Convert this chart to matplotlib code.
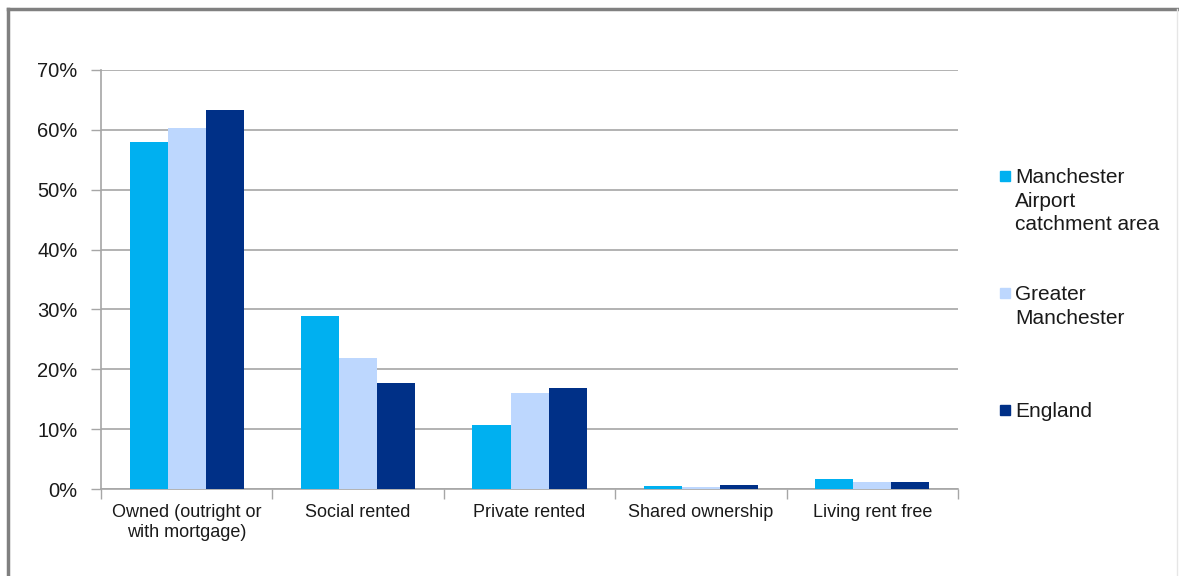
import numpy as np
import matplotlib.pyplot as plt
from matplotlib.patches import Rectangle
from matplotlib.lines import Line2D

plt.rcParams['font.family'] = ['Liberation Sans', 'DejaVu Sans']

categories = ['Owned (outright or\nwith mortgage)', 'Social rented', 'Private rented',
              'Shared ownership', 'Living rent free']
series_names = ['Manchester\nAirport\ncatchment area', 'Greater\nManchester', 'England']
airport = [57.9, 28.9, 10.7, 0.55, 1.7]
greater_manchester = [60.3, 21.9, 16.0, 0.4, 1.2]
england = [63.3, 17.7, 16.8, 0.7, 1.2]
colors = ['#00B0F0', '#BDD7FE', '#003087']
y_ticks = [0, 10, 20, 30, 40, 50, 60, 70]

fig = plt.figure(figsize=(11.79, 5.76), dpi=100)
ax = fig.add_axes([0.0857, 0.151, 0.8126 - 0.0857, 0.8785 - 0.151])

x = np.arange(len(categories))
w = 0.222
for i, vals in enumerate([airport, greater_manchester, england]):
    ax.bar(x + (i - 1) * w, vals, width=w, color=colors[i], zorder=3)

ax.set_xlim(-0.5, len(categories) - 0.5)
ax.set_ylim(0, 70)
ax.set_yticks(y_ticks)
ax.set_yticklabels([f'{t}%' for t in y_ticks], fontsize=14.5, color='#1a1a1a')
ax.yaxis.grid(True, color='#a6a6a6', linewidth=1.2, zorder=0)
ax.tick_params(axis='y', length=7, width=1, color='#a6a6a6', pad=10)

ax.set_xticks(x)
ax.set_xticklabels(categories, fontsize=13, color='#1a1a1a')
ax.tick_params(axis='x', length=0, pad=11)
ax.set_xticks(np.arange(-0.5, len(categories)), minor=True)
ax.tick_params(axis='x', which='minor', length=7, width=1, color='#a6a6a6')

for s in ['top', 'right']:
    ax.spines[s].set_visible(False)
for s in ['left', 'bottom']:
    ax.spines[s].set_color('#a6a6a6')
    ax.spines[s].set_linewidth(1.2)

# legend drawn by hand so the swatch sits at the first text line
leg_y = [176, 293, 410]
for name, c, yy in zip(series_names, colors, leg_y):
    yf = 1 - yy / 576
    fig.add_artist(Rectangle((1000 / 1179, yf - 5 / 576), 10 / 1179, 10 / 576,
                             transform=fig.transFigure, color=c))
    fig.text(1015 / 1179, yf + 8 / 576, name, fontsize=15, color='#1a1a1a',
             va='top', ha='left', linespacing=1.3)

# outer frame
fig.add_artist(Line2D([8 / 1179, 8 / 1179], [0, 1 - 9 / 576], transform=fig.transFigure,
                      color='#808080', linewidth=2.5))
fig.add_artist(Line2D([8 / 1179, 1177 / 1179], [1 - 9 / 576, 1 - 9 / 576],
                      transform=fig.transFigure, color='#808080', linewidth=2.5))
fig.add_artist(Line2D([1177 / 1179, 1177 / 1179], [0, 1 - 9 / 576], transform=fig.transFigure,
                      color='#e6e6e6', linewidth=1))

fig.savefig('out.png', dpi=100, facecolor='white')
